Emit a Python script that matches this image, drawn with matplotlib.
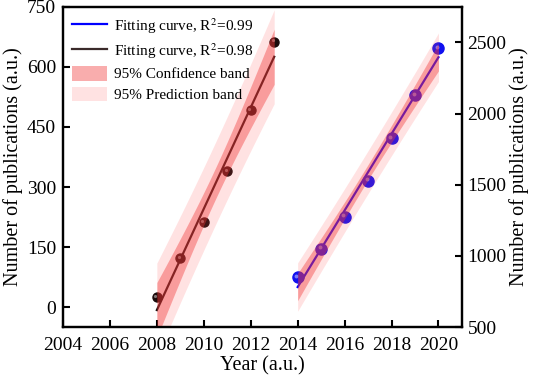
import matplotlib
matplotlib.use('Agg')
import matplotlib.pyplot as plt
import matplotlib.patches as mpatches
from matplotlib.lines import Line2D
from matplotlib import transforms
import numpy as np

plt.rcParams['font.family'] = ['Liberation Serif', 'DejaVu Serif']
plt.rcParams['mathtext.fontset'] = 'stix'

# data
years_a = np.array([2008, 2009, 2010, 2011, 2012, 2013])
pubs_a = np.array([25, 122, 212, 340, 492, 663])
years_b = np.array([2014, 2015, 2016, 2017, 2018, 2019, 2020])
pubs_b = np.array([850, 1052, 1276, 1528, 1829, 2129, 2458])

xticks = [2004, 2006, 2008, 2010, 2012, 2014, 2016, 2018, 2020]
yticks_left = [0, 150, 300, 450, 600, 750]
yticks_right = [500, 1000, 1500, 2000, 2500]

# t(0.975, n-2)
t_vals = {4: 2.776, 5: 2.571}


def fit_bands(x, y):
    n = len(x)
    p = np.polyfit(x, y, 1)
    xs = np.linspace(x.min(), x.max(), 100)
    yhat = np.polyval(p, xs)
    resid = y - np.polyval(p, x)
    s = np.sqrt(np.sum(resid ** 2) / (n - 2))
    sxx = np.sum((x - x.mean()) ** 2)
    t = t_vals[n - 2]
    ci = t * s * np.sqrt(1 / n + (xs - x.mean()) ** 2 / sxx)
    pi = t * s * np.sqrt(1 + 1 / n + (xs - x.mean()) ** 2 / sxx)
    return xs, yhat, ci, pi


fig = plt.figure(figsize=(5.34, 3.8), dpi=100)
ax = fig.add_axes([0.118, 0.139, 0.747, 0.843])
ax2 = ax.twinx()

conf_col = (0.95, 0.2, 0.2, 0.40)
pred_col = (1.0, 0.3, 0.3, 0.16)


def sphere(axis, x, y, col, size, z):
    axis.plot(x, y, 'o', ms=size, color=col, mec=col, zorder=z)
    off = transforms.offset_copy(axis.transData, fig=fig, x=-1.0, y=1.0, units='points')
    axis.plot(x, y, 'o', ms=size * 0.35, color='white', alpha=0.45, mec='none',
              transform=off, zorder=z + 0.1)


# first period, left axis
xs, yhat, ci, pi = fit_bands(years_a.astype(float), pubs_a)
ax.plot(xs, yhat, color='#1a1010', lw=1.6, zorder=2)
sphere(ax, years_a, pubs_a, '#1a0a0a', 6.5, 2.5)
ax.fill_between(xs, yhat - pi, yhat + pi, color=pred_col, lw=0, zorder=3)
ax.fill_between(xs, yhat - ci, yhat + ci, color=conf_col, lw=0, zorder=3.5)

# second period, right axis
xs, yhat, ci, pi = fit_bands(years_b.astype(float), pubs_b)
ax2.plot(xs, yhat, color='#0000ff', lw=1.6, zorder=2)
sphere(ax2, years_b, pubs_b, '#1010f0', 8, 2.5)
ax2.fill_between(xs, yhat - pi, yhat + pi, color=pred_col, lw=0, zorder=3)
ax2.fill_between(xs, yhat - ci, yhat + ci, color=conf_col, lw=0, zorder=3.5)

ax.set_xlim(2004, 2021)
ax.set_ylim(-50, 750)
ax2.set_ylim(500, 2750)
ax.set_xticks(xticks)
ax.set_yticks(yticks_left)
ax2.set_yticks(yticks_right)

for a in (ax, ax2):
    a.tick_params(direction='in', length=5, width=1.5, labelsize=14, pad=4)
    for sp in a.spines.values():
        sp.set_linewidth(1.6)
ax.tick_params(axis='x', pad=7)
ax.tick_params(axis='y', pad=5)

ax.set_xlabel('Year (a.u.)', fontsize=14.5, labelpad=2)
ax.set_ylabel('Number of publications (a.u.)', fontsize=14.5, labelpad=3)
ax2.set_ylabel('Number of publications (a.u.)', fontsize=14.5, rotation=90, labelpad=2)

handles = [
    Line2D([], [], color='#0000ff', lw=1.6),
    Line2D([], [], color='#3a2a2a', lw=1.6),
    mpatches.Patch(color=conf_col, lw=0),
    mpatches.Patch(color=pred_col, lw=0),
]
labels = ['Fitting curve, R$^2$=0.99', 'Fitting curve, R$^2$=0.98',
          '95% Confidence band', '95% Prediction band']
ax2.legend(handles, labels, loc='upper left', frameon=False, fontsize=11,
           handlelength=2.3, handleheight=1.1, labelspacing=0.35,
           borderaxespad=0.3, handletextpad=0.45, borderpad=0.3)

fig.savefig('out.png', dpi=100)
